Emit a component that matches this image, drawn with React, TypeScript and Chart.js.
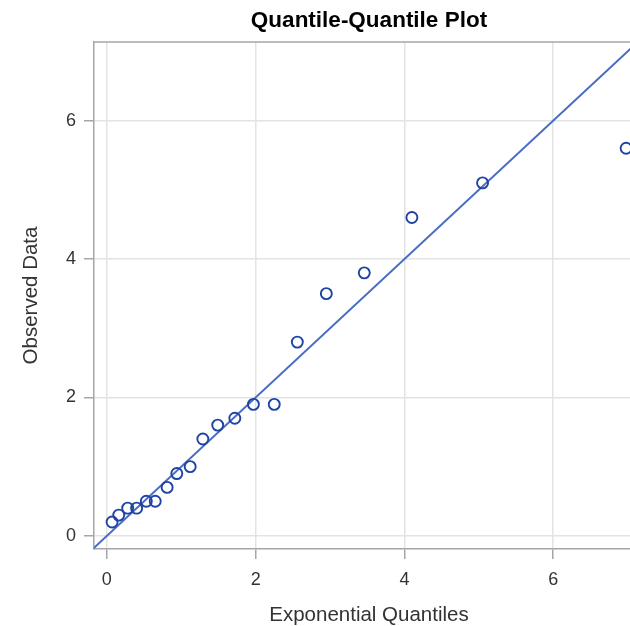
import React, { useEffect, useRef } from "react";
import { Chart, registerables } from "chart.js";

Chart.register(...registerables);

const expQuantiles = [0.07, 0.16, 0.28, 0.4, 0.53, 0.65, 0.81, 0.94, 1.12, 1.29, 1.49, 1.72, 1.97, 2.25, 2.56, 2.95, 3.46, 4.1, 5.05, 6.98];
const observed = [0.2, 0.3, 0.4, 0.4, 0.5, 0.5, 0.7, 0.9, 1.0, 1.4, 1.6, 1.7, 1.9, 1.9, 2.8, 3.5, 3.8, 4.6, 5.1, 5.6];

// Reference line (threshold 0, scale 1): y = x
const refLineX = [-0.5, 7.5];
const refLineY = [-0.5, 7.5];

const xTicks = [0, 2, 4, 6];
const yTicks = [0, 2, 4, 6];

const FONT = "'Liberation Sans', Arial, Helvetica, sans-serif";
const AXIS_GRAY = "#a6a6a6";
const GRID = "#e3e3e3";
const TEXT = "#333333";

const topBorder = {
  id: "topBorder",
  afterDraw(chart: any) {
    const { ctx, chartArea } = chart;
    ctx.save();
    ctx.strokeStyle = AXIS_GRAY;
    ctx.lineWidth = 1.5;
    ctx.beginPath();
    ctx.moveTo(chartArea.left, chartArea.top);
    ctx.lineTo(chartArea.right, chartArea.top);
    ctx.stroke();
    ctx.restore();
  },
};

export default function App() {
  const ref = useRef<HTMLCanvasElement | null>(null);

  useEffect(() => {
    if (!ref.current) return;
    const chart = new Chart(ref.current, {
      type: "scatter",
      data: {
        datasets: [
          {
            label: "Observed",
            data: expQuantiles.map((x, i) => ({ x, y: observed[i] })),
            pointStyle: "circle",
            pointRadius: 5.5,
            pointBorderWidth: 1.9,
            pointBorderColor: "#1f43a4",
            pointBackgroundColor: "rgba(0,0,0,0)",
            showLine: false,
            order: 1,
          },
          {
            label: "Reference",
            data: refLineX.map((x, i) => ({ x, y: refLineY[i] })),
            showLine: true,
            pointRadius: 0,
            borderColor: "#4a6dc4",
            borderWidth: 2,
            order: 2,
          } as any,
        ],
      },
      options: {
        animation: false,
        responsive: false,
        layout: { autoPadding: false, padding: { left: 0, right: 0, top: 0, bottom: 0 } },
        plugins: {
          legend: { display: false },
          tooltip: { enabled: false },
          title: {
            display: true,
            text: "Quantile-Quantile Plot",
            fullSize: false,
            color: "#000",
            font: { family: FONT, size: 22.5, weight: "bold", lineHeight: 1.2 },
            padding: { top: 7, bottom: 8 },
          },
        },
        scales: {
          x: {
            type: "linear",
            min: -0.173,
            max: 7.22,
            afterBuildTicks: (s: any) => {
              s.ticks = xTicks.map((v) => ({ value: v }));
            },
            afterFit: (s: any) => {
              s.height = 77;
              s.paddingLeft = 0;
              s.paddingRight = 0;
            },
            grid: { color: GRID, lineWidth: 1.5, drawTicks: true, tickLength: 10, tickColor: AXIS_GRAY, tickWidth: 1.5 },
            border: { color: AXIS_GRAY, width: 1.5 },
            ticks: { color: TEXT, font: { family: FONT, size: 18 }, padding: 10, maxRotation: 0 },
            title: {
              display: true,
              text: "Exponential Quantiles",
              color: TEXT,
              font: { family: FONT, size: 20.5, lineHeight: 1 },
              padding: { top: 0, bottom: 0.5 },
            },
          },
          y: {
            type: "linear",
            min: -0.19,
            max: 7.136,
            afterBuildTicks: (s: any) => {
              s.ticks = yTicks.map((v) => ({ value: v }));
            },
            afterFit: (s: any) => {
              s.width = 94;
              s.paddingTop = 0;
              s.paddingBottom = 0;
            },
            grid: { color: GRID, lineWidth: 1.5, drawTicks: true, tickLength: 10, tickColor: AXIS_GRAY, tickWidth: 1.5 },
            border: { color: AXIS_GRAY, width: 1.5 },
            ticks: { color: TEXT, font: { family: FONT, size: 18 }, padding: 8 },
            title: {
              display: true,
              text: "Observed Data",
              color: TEXT,
              font: { family: FONT, size: 20.5, lineHeight: 1 },
              padding: { top: 21.5, bottom: 0 },
            },
          },
        },
      },
      plugins: [topBorder],
    });
    return () => chart.destroy();
  }, []);

  return (
    <div style={{ position: "absolute", left: 0, top: 0, width: 630, height: 626, overflow: "hidden", background: "#fff" }}>
      <canvas ref={ref} width={644} height={626} style={{ display: "block" }} />
    </div>
  );
}
